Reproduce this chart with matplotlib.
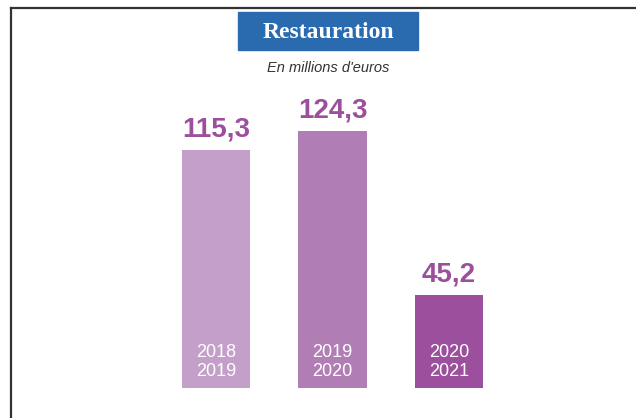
import matplotlib.pyplot as plt
from matplotlib.patches import Rectangle

# values in millions of euros
periods = ["2018\n2019", "2019\n2020", "2020\n2021"]
values = [115.3, 124.3, 45.2]
value_labels = ["115,3", "124,3", "45,2"]
bar_colors = ["#c49fca", "#b07db5", "#9b4f9d"]

title = "Restauration"
subtitle = "En millions d'euros"

sans = ["Liberation Sans", "DejaVu Sans"]

fig = plt.figure(figsize=(6.36, 4.18), dpi=100)
fig.patch.set_facecolor("white")

# frame line at top and left
fig.add_artist(plt.Line2D([11 / 636, 11 / 636], [0, 1 - 8 / 418],
                          color="#333333", lw=1.6))
fig.add_artist(plt.Line2D([11 / 636, 1], [1 - 8 / 418, 1 - 8 / 418],
                          color="#333333", lw=1.6))

# title box
fig.add_artist(Rectangle((238 / 636, 1 - 50 / 418), 180 / 636, 38 / 418,
                         transform=fig.transFigure, color="#2a6bb0"))
fig.text(328 / 636, 1 - 32 / 418, title, ha="center", va="center",
         color="white", fontsize=17, fontweight="bold",
         family=["Liberation Serif", "DejaVu Serif"])
fig.text(328 / 636, 1 - 68 / 418, subtitle, ha="center", va="center",
         color="#333333", fontsize=10.5, style="italic", family=sans)

# axes: bottom at pixel 388, top at pixel 0
ax = fig.add_axes([0, 30 / 418, 1, 388 / 418])
ax.set_xlim(-1.854, 3.605)
ax.set_ylim(0, 188.0)
ax.axis("off")

x = range(len(values))
ax.bar(x, values, width=0.584, color=bar_colors)

for i, v in enumerate(values):
    ax.text(i, v + 10.0, value_labels[i], ha="center", va="center",
            color="#9b4f9d", fontsize=20, fontweight="bold", family=sans)
    ax.text(i, 12.6, periods[i], ha="center", va="center", color="white",
            fontsize=13, family=sans, linespacing=1.1)

fig.savefig("out.png", dpi=100)
